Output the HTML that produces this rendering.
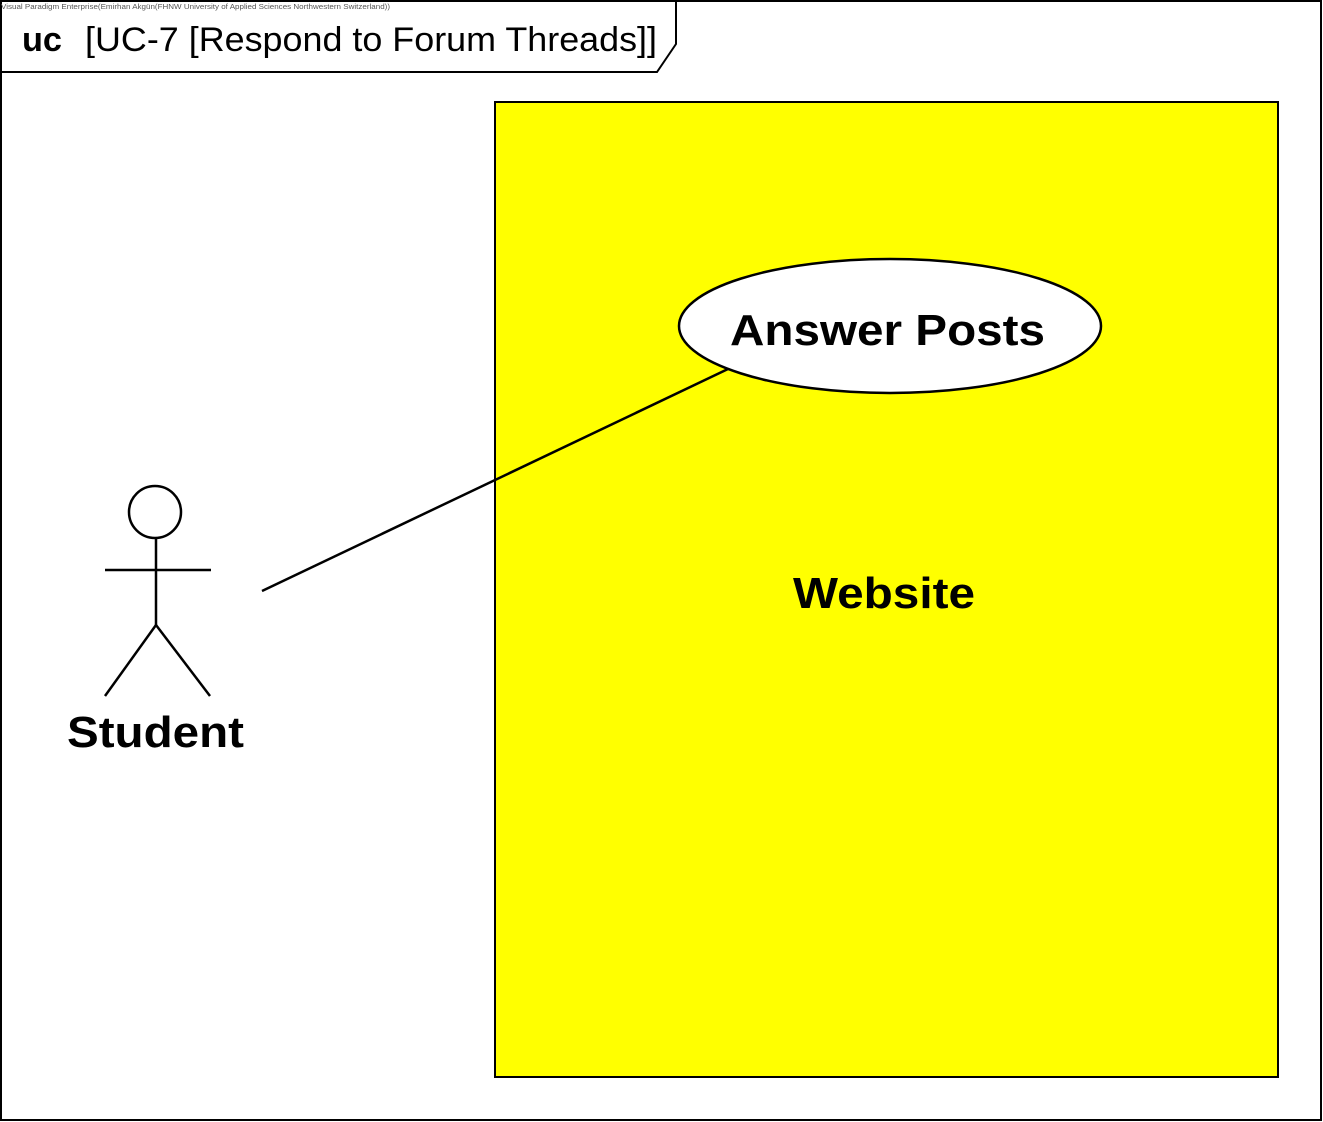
<!DOCTYPE html>
<html><head><meta charset="utf-8"><style>html,body{margin:0;padding:0;background:#fff}svg{display:block}</style></head>
<body>
<svg width="1323" height="1122" xmlns="http://www.w3.org/2000/svg" font-family="Liberation Sans, Arial, sans-serif">
<rect x="1" y="1" width="1320" height="1119" fill="#fff" stroke="#000" stroke-width="2"/>
<path d="M1,72 L657,72 L676,44 L676,1" fill="none" stroke="#000" stroke-width="2"/>
<text x="1" y="9" font-size="7" fill="#555" textLength="389" lengthAdjust="spacingAndGlyphs">Visual Paradigm Enterprise(Emirhan Akgün(FHNW University of Applied Sciences Northwestern Switzerland))</text>
<text x="22" y="51" font-size="34" font-weight="bold" textLength="40" lengthAdjust="spacingAndGlyphs">uc</text>
<text x="85" y="51" font-size="34" textLength="572" lengthAdjust="spacingAndGlyphs">[UC-7 [Respond to Forum Threads]]</text>
<rect x="495" y="102" width="783" height="975" fill="#ffff00" stroke="#000" stroke-width="2"/>
<text x="793" y="608" font-size="44" font-weight="bold" textLength="182" lengthAdjust="spacingAndGlyphs">Website</text>
<ellipse cx="890" cy="326" rx="211" ry="67" fill="#fff" stroke="#000" stroke-width="2.5"/>
<text x="730" y="345" font-size="44" font-weight="bold" textLength="315" lengthAdjust="spacingAndGlyphs">Answer Posts</text>
<line x1="262" y1="591" x2="728" y2="369" stroke="#000" stroke-width="2.5"/>
<g stroke="#000" stroke-width="2.5" fill="none">
<circle cx="155" cy="512" r="26" fill="#fff"/>
<line x1="156" y1="538" x2="156" y2="625"/>
<line x1="105" y1="570" x2="211" y2="570"/>
<line x1="156" y1="625" x2="105" y2="696"/>
<line x1="156" y1="625" x2="210" y2="696"/>
</g>
<text x="67" y="747" font-size="44" font-weight="bold" textLength="177" lengthAdjust="spacingAndGlyphs">Student</text>
</svg>
</body></html>
